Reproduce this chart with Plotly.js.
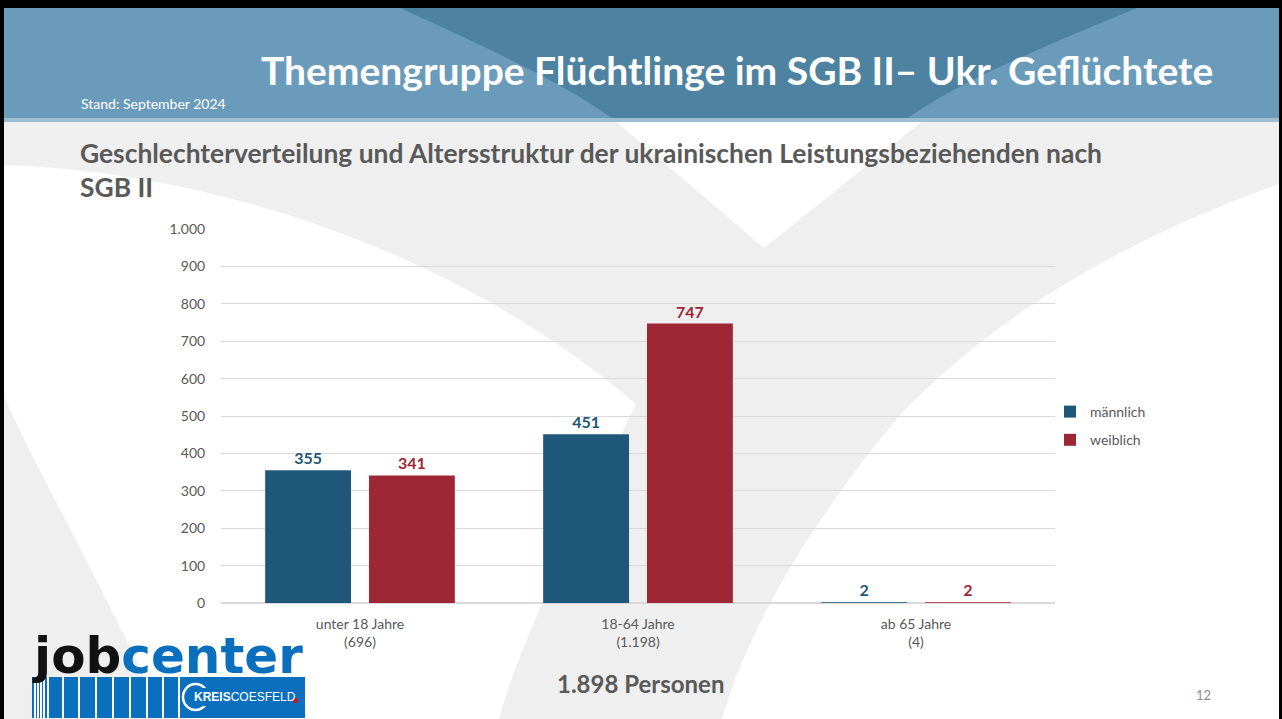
<!DOCTYPE html>
<html>
<head>
<meta charset="utf-8">
<script src="https://cdn.plot.ly/plotly-3.0.1.min.js"></script>
<style>
html,body{margin:0;padding:0;background:#fff;}
#chart{width:1282px;height:719px;}
</style>
</head>
<body>
<div id="chart"></div>
<script>
// ---- data ----
const categories = ["unter 18 Jahre<br>(696)", "18-64 Jahre<br>(1.198)", "ab 65 Jahre<br>(4)"];
const maennlich = [355, 451, 2];
const weiblich = [341, 747, 2];
const seriesNames = ["männlich", "weiblich"];
const yTicks = [0, 100, 200, 300, 400, 500, 600, 700, 800, 900, 1000];

// ---- styling ----
const W = 1282, H = 719;
const FONT = "Lato, 'Open Sans', sans-serif";
const GRAY = "#595959";
const BLUE = "#1e577a";
const RED = "#9e2736";

function px(x){ return x / W; }
function py(y){ return 1 - y / H; }
function P(x, y){ return px(x).toFixed(5) + "," + py(y).toFixed(5); }

const shapes = [];
function rect(x0, y0, x1, y1, color, layer){
  shapes.push({type:"rect", xref:"paper", yref:"paper", layer:layer || "below",
    x0:px(x0), x1:px(x1), y0:py(y1), y1:py(y0), fillcolor:color, line:{width:0}});
}
function path(d, color){
  shapes.push({type:"path", xref:"paper", yref:"paper", layer:"below", path:d, fillcolor:color, line:{width:0}});
}

// white swoosh shapes on gray background
path("M" + P(0,165) + " C" + P(200,170) + " " + P(450,245) + " " + P(636,404) +
     " C" + P(590,500) + " " + P(520,640) + " " + P(499,719) +
     " L" + P(165,719) + " C" + P(90,560) + " " + P(20,440) + " " + P(0,385) + " Z", "#ffffff");
path("M" + P(613,119) + " L" + P(764,248) + " L" + P(925,119) + " Z", "#ffffff");
path("M" + P(1282,183) + " C" + P(1120,240) + " " + P(990,320) + " " + P(900,415) +
     " C" + P(820,510) + " " + P(750,620) + " " + P(722,719) + " L" + P(1282,719) + " Z", "#ffffff");

// header
rect(0, 0, 1282, 119, "#6a9bba");
path("M" + P(400,8) + " C" + P(470,40) + " " + P(560,80) + " " + P(613,119) +
     " L" + P(907,119) + " C" + P(960,80) + " " + P(1060,40) + " " + P(1137,8) + " Z", "#4d83a1");
rect(0, 118, 1282, 122, "#9dbdd1");
// frame
rect(0, 0, 1282, 8, "#000000");
rect(0, 0, 4, 719, "#000000");
rect(1279, 0, 1282, 719, "#000000");

// logo lower block
rect(32, 677, 305, 718, "#0a6fbd");
const stripeX = [34, 37, 40, 43, 47, 62, 78, 95, 112, 129, 146, 162, 178];
stripeX.forEach(function(x){ rect(x, 677, x + 2, 718, "#ffffff"); });
shapes.push({type:"circle", xref:"paper", yref:"paper", layer:"above",
  x0:px(183), x1:px(208), y0:py(710), y1:py(684), line:{color:"#ffffff", width:2.5}, fillcolor:"rgba(0,0,0,0)"});
rect(200, 688, 212, 706, "#0a6fbd", "above");
shapes.push({type:"circle", xref:"paper", yref:"paper", layer:"above",
  x0:px(293), x1:px(298), y0:py(703), y1:py(698), line:{width:0}, fillcolor:"#d0141e"});

const annotations = [
  {text:"<b>Themengruppe Flüchtlinge im SGB II– Ukr. Geflüchtete</b>", x:px(737), y:py(70),
   xref:"paper", yref:"paper", showarrow:false, xanchor:"center", yanchor:"middle",
   font:{family:FONT, size:39, color:"#ffffff"}},
  {text:"Stand: September 2024", x:px(79), y:py(104), xref:"paper", yref:"paper", showarrow:false,
   xanchor:"left", yanchor:"middle", font:{family:FONT, size:14, color:"#ffffff"}},
  {text:"<b>Geschlechterverteilung und Altersstruktur der ukrainischen Leistungsbeziehenden nach</b>",
   x:px(78), y:py(153), xref:"paper", yref:"paper", showarrow:false, xanchor:"left", yanchor:"middle",
   font:{family:FONT, size:26.4, color:GRAY}},
  {text:"<b>SGB II</b>", x:px(78), y:py(187), xref:"paper", yref:"paper", showarrow:false,
   xanchor:"left", yanchor:"middle", font:{family:FONT, size:26.4, color:GRAY}},
  {text:"<b>1.898 Personen</b>", x:px(640), y:py(683), xref:"paper", yref:"paper", showarrow:false,
   xanchor:"center", yanchor:"middle", font:{family:FONT, size:24, color:GRAY}},
  {text:"12", x:px(1203), y:py(695), xref:"paper", yref:"paper", showarrow:false,
   xanchor:"center", yanchor:"middle", font:{family:FONT, size:13, color:"#8c8c8c"}},
  {text:"<b><span style='color:#111111'>job</span><span style='color:#0a6fbd'>center</span></b>",
   x:px(30), y:py(656), xref:"paper", yref:"paper", showarrow:false, xanchor:"left", yanchor:"middle",
   font:{family:"'DejaVu Sans', sans-serif", size:50, color:"#0a6fbd"}},
  {text:"<b>KREIS</b>COESFELD", x:px(192), y:py(697), xref:"paper", yref:"paper", showarrow:false,
   xanchor:"left", yanchor:"middle", font:{family:"'Liberation Sans Narrow', 'Liberation Sans', sans-serif", size:12, color:"#ffffff"}}
];

const traces = [
  {type:"bar", name:seriesNames[0], x:categories, y:maennlich, marker:{color:BLUE},
   text:maennlich.map(String), textposition:"outside", cliponaxis:false, legendgroup:"m",
   textfont:{family:FONT, size:16, color:BLUE, weight:"bold"}, hoverinfo:"x+y"},
  {type:"bar", name:seriesNames[1], x:categories, y:weiblich, marker:{color:RED},
   text:weiblich.map(String), textposition:"outside", cliponaxis:false, legendgroup:"w",
   textfont:{family:FONT, size:16, color:RED, weight:"bold"}, hoverinfo:"x+y"}
];

const layout = {
  width:W, height:H,
  margin:{l:0, r:0, t:0, b:0},
  paper_bgcolor:"#efefef",
  plot_bgcolor:"rgba(0,0,0,0)",
  separators:",.",
  barmode:"group",
  bargap:0.253,
  bargroupgap:0.173,
  showlegend:true,
  legend:{x:px(1050), y:py(396), xanchor:"left", yanchor:"top", bgcolor:"rgba(0,0,0,0)",
    font:{family:FONT, size:14, color:GRAY}, traceorder:"grouped", tracegroupgap:7, itemwidth:30},
  xaxis:{domain:[px(221), px(1055)], type:"category", showgrid:false, zeroline:false, showline:false,
    ticks:"outside", ticklen:8, tickcolor:"rgba(0,0,0,0)",
    tickfont:{family:FONT, size:14, color:GRAY}},
  yaxis:{domain:[py(603), py(229)], range:[0,1000], tickvals:yTicks, tickformat:",d",
    showgrid:true, gridcolor:"#d9d9d9", gridwidth:1, zeroline:true, zerolinecolor:"#d9d9d9", zerolinewidth:1.5,
    showline:false, ticks:"outside", ticklen:12, tickcolor:"rgba(0,0,0,0)",
    tickfont:{family:FONT, size:14, color:GRAY}},
  shapes:shapes,
  annotations:annotations
};

Plotly.newPlot("chart", traces, layout, {displayModeBar:false, staticPlot:true});
</script>
</body>
</html>
